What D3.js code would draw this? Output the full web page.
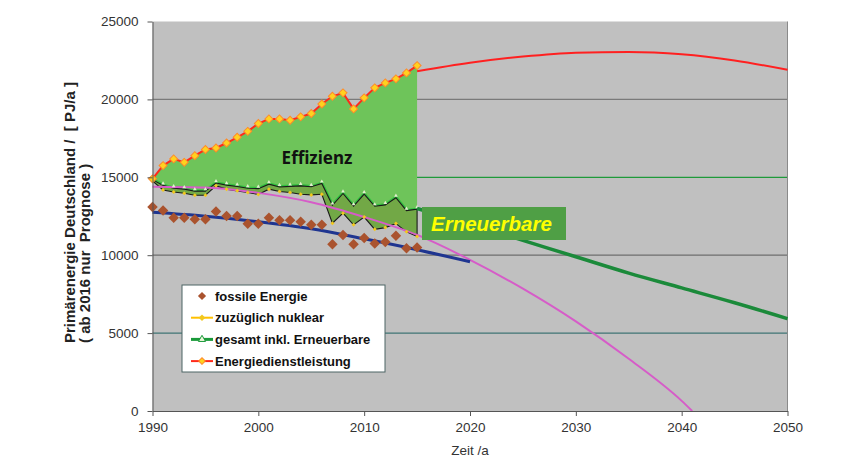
<!DOCTYPE html>
<html>
<head>
<meta charset="utf-8">
<script src="https://cdn.jsdelivr.net/npm/d3@7"></script>
<style>
  body { margin: 0; background: #fff; }
  text { font-family: "Liberation Sans", Arial, sans-serif; }
</style>
</head>
<body>
<div class="chart"></div>
<script>
// values (PJ/a)
var years = [1990, 1991, 1992, 1993, 1994, 1995, 1996, 1997, 1998, 1999, 2000, 2001, 2002,
             2003, 2004, 2005, 2006, 2007, 2008, 2009, 2010, 2011, 2012, 2013, 2014, 2015];
var fossil = [13100, 12870, 12400, 12400, 12300, 12300, 12800, 12510, 12510, 12020, 12020, 12400, 12240,
              12240, 12150, 11950, 11950, 10700, 11300, 10700, 11100, 10750, 10850, 11250, 10450, 10500];
var nuklear = [14760, 14190, 14060, 13980, 13850, 13850, 14450, 14240, 14130, 14020, 13900, 14240, 14090,
               14020, 13910, 13870, 13910, 12050, 12700, 11950, 12450, 11660, 11770, 12030, 11500, 11200];
var gesamt = [14850, 14480, 14300, 14240, 14110, 14110, 14630, 14500, 14410, 14300, 14270, 14560, 14380,
              14420, 14450, 14390, 14600, 13200, 13960, 13150, 13920, 13140, 13230, 13690, 12860, 12950];
var dienst = [14900, 15750, 16180, 15960, 16390, 16780, 16880, 17200, 17570, 17950, 18450, 18750, 18750,
              18660, 18880, 19090, 19710, 20200, 20420, 19390, 20100, 20740, 21060, 21320, 21700, 22170];

// forecast / trend curves
var prognoseYears = [2015, 2020, 2025, 2030, 2035, 2040, 2045, 2050];
var dienstPrognose = [21800, 22350, 22750, 23000, 23050, 22900, 22500, 21900];
var gesamtPrognose = [13000, 12000, 10950, 9900, 8850, 7900, 6950, 5930];
var trendYears = [1990, 1995, 2000, 2005, 2010, 2015, 2020, 2025, 2030, 2035, 2040, 2041];
var trendGesamt = [14400, 14350, 14000, 13400, 12450, 11300, 9700, 7850, 5750, 3350, 650, 0];
var fossilTrendYears = [1990, 1995, 2000, 2005, 2010, 2015, 2020];
var fossilTrend = [12750, 12500, 12150, 11700, 11050, 10350, 9580];

var yTicks = [0, 5000, 10000, 15000, 20000, 25000];
var xTicks = [1990, 2000, 2010, 2020, 2030, 2040, 2050];
var legendLabels = ["fossile Energie", "zuzüglich nuklear", "gesamt inkl. Erneuerbare", "Energiedienstleistung"];

var W = 860, H = 459;
var x = d3.scaleLinear().domain([1990, 2050]).range([152.5, 787.5]);
var y = d3.scaleLinear().domain([0, 25000]).range([411, 21.5]);

var svg = d3.select(".chart").append("svg")
    .attr("width", W).attr("height", H);

var rows = years.map((yr, i) => ({ year: yr, fossil: fossil[i], nuklear: nuklear[i], gesamt: gesamt[i], dienst: dienst[i] }));
var pts = (xs, vs) => xs.map((yr, i) => [yr, vs[i]]);

// plot background
svg.append("rect")
    .attr("x", x(1990)).attr("y", y(25000))
    .attr("width", x(2050) - x(1990)).attr("height", y(0) - y(25000))
    .attr("fill", "#c0c0c0");

// grid lines
var gridColor = { 5000: "#3f7574", 10000: "#6e6e6e", 15000: "#1f9a3a", 20000: "#7a7a7a" };
svg.append("g").selectAll("line")
    .data([5000, 10000, 15000, 20000])
    .enter().append("line")
    .attr("x1", x(1990)).attr("x2", x(2050))
    .attr("y1", d => y(d)).attr("y2", d => y(d))
    .attr("stroke", d => gridColor[d])
    .attr("stroke-width", 1.2);

svg.append("line")
    .attr("x1", x(2050)).attr("x2", x(2050))
    .attr("y1", y(25000)).attr("y2", y(0))
    .attr("stroke", "#8a8a8a");

// Effizienz area between total and energy service
var effArea = d3.area()
    .x(d => x(d.year)).y0(d => y(d.gesamt)).y1(d => y(d.dienst));
svg.append("path").datum(rows)
    .attr("d", effArea)
    .attr("fill", "#6ec45a");

// green total line under the outline
var line = d3.line().x(d => x(d[0])).y(d => y(d[1]));
svg.append("path").datum(pts(years, gesamt))
    .attr("d", line)
    .attr("fill", "none")
    .attr("stroke", "#33c040")
    .attr("stroke-width", 3.5);

// renewables band between nuclear and total
var ernArea = d3.area()
    .x(d => x(d.year)).y0(d => y(d.nuklear)).y1(d => y(d.gesamt));
svg.append("path").datum(rows)
    .attr("d", ernArea)
    .attr("fill", "#72a846")
    .attr("stroke", "#1a1a1a")
    .attr("stroke-width", 1.1);

// magenta trend curve
var smooth = d3.line().x(d => x(d[0])).y(d => y(d[1])).curve(d3.curveMonotoneX);
svg.append("path").datum(pts(trendYears, trendGesamt))
    .attr("d", smooth)
    .attr("fill", "none")
    .attr("stroke", "#d65cc8")
    .attr("stroke-width", 2);

// small markers on nuclear and total lines
svg.append("g").selectAll("path")
    .data(rows)
    .enter().append("path")
    .attr("d", d3.symbol(d3.symbolSquare, 8))
    .attr("transform", d => "translate(" + x(d.year) + "," + y(d.nuklear) + ") rotate(45)")
    .attr("fill", "#f2c81e");
svg.append("g").selectAll("path")
    .data(rows)
    .enter().append("path")
    .attr("d", d3.symbol(d3.symbolTriangle, 6))
    .attr("transform", d => "translate(" + x(d.year) + "," + (y(d.gesamt) - 2) + ")")
    .attr("fill", "#e4f0d0");

// fossil trend
svg.append("path").datum(pts(fossilTrendYears, fossilTrend))
    .attr("d", smooth)
    .attr("fill", "none")
    .attr("stroke", "#1f3590")
    .attr("stroke-width", 3);

// fossil markers
svg.append("g").selectAll("path")
    .data(rows)
    .enter().append("path")
    .attr("d", d3.symbol(d3.symbolSquare, 55))
    .attr("transform", d => "translate(" + x(d.year) + "," + y(d.fossil) + ") rotate(45)")
    .attr("fill", "#aa532e");

// energy service line with markers
svg.append("path").datum(pts(years, dienst))
    .attr("d", line)
    .attr("fill", "none")
    .attr("stroke", "#ff2a1a")
    .attr("stroke-width", 2);
svg.append("g").selectAll("path")
    .data(rows)
    .enter().append("path")
    .attr("d", d3.symbol(d3.symbolSquare, 32))
    .attr("transform", d => "translate(" + x(d.year) + "," + y(d.dienst) + ") rotate(45)")
    .attr("fill", "#ffd21f")
    .attr("stroke", "#ff8a2a")
    .attr("stroke-width", 1);

// forecasts
svg.append("path").datum(pts(prognoseYears, dienstPrognose))
    .attr("d", smooth)
    .attr("fill", "none")
    .attr("stroke", "#ff2020")
    .attr("stroke-width", 2);
svg.append("path").datum(pts(prognoseYears, gesamtPrognose))
    .attr("d", smooth)
    .attr("fill", "none")
    .attr("stroke", "#1b8a3a")
    .attr("stroke-width", 3.5);

// labels inside the plot
svg.append("text")
    .attr("x", 317).attr("y", 158)
    .attr("dy", "0.35em")
    .attr("text-anchor", "middle")
    .style("font-family", "'Noto Sans', sans-serif")
    .attr("font-size", "17px")
    .attr("font-weight", "bold")
    .attr("fill", "#111")
    .text("Effizienz");

svg.append("rect")
    .attr("x", 422).attr("y", 207)
    .attr("width", 144).attr("height", 33)
    .attr("fill", "#4f9f45");
svg.append("text")
    .attr("x", 431).attr("y", 231)
    .attr("font-size", "20.5px")
    .attr("font-weight", "bold")
    .attr("font-style", "italic")
    .attr("fill", "#ffff00")
    .text("Erneuerbare");

// axes
var yAxis = d3.axisLeft(y).tickValues(yTicks).tickFormat(d3.format("d")).tickSize(5).tickPadding(9).tickSizeOuter(0);
var gy = svg.append("g")
    .attr("transform", "translate(" + x(1990) + ",0)")
    .call(yAxis);
gy.select(".domain").attr("stroke", "#555");
gy.selectAll(".tick line").attr("stroke", "#555");
gy.selectAll("text").attr("font-size", "13.5px").attr("fill", "#333").style("font-family", "'Liberation Sans', Arial");

var xAxis = d3.axisBottom(x).tickValues(xTicks).tickFormat(d3.format("d")).tickSize(5).tickPadding(6).tickSizeOuter(0);
var gx = svg.append("g")
    .attr("transform", "translate(0," + y(0) + ")")
    .call(xAxis);
gx.select(".domain").attr("stroke", "#555");
gx.selectAll(".tick line").attr("stroke", "#555");
gx.selectAll("text").attr("font-size", "13.5px").attr("fill", "#333").style("font-family", "'Liberation Sans', Arial");

svg.append("text")
    .attr("x", x(2020)).attr("y", 455)
    .attr("text-anchor", "middle")
    .attr("font-size", "13.5px")
    .attr("fill", "#333")
    .text("Zeit /a");

var yTitle = svg.append("g").attr("transform", "translate(75,343) rotate(-90)");
yTitle.append("text")
    .attr("font-size", "15px").attr("font-weight", "bold").attr("fill", "#222")
    .attr("xml:space", "preserve")
    .text("Primärenergie Deutschland /  [ PJ/a ]");
yTitle.append("text")
    .attr("y", 15)
    .attr("font-size", "15px").attr("font-weight", "bold").attr("fill", "#222")
    .attr("xml:space", "preserve")
    .text("( ab 2016 nur  Prognose )");

// legend
var legend = svg.append("g").attr("transform", "translate(182,285)");
legend.append("rect")
    .attr("width", 203).attr("height", 87)
    .attr("fill", "#fff")
    .attr("stroke", "#4d6464");
var item = legend.selectAll("g.item")
    .data(legendLabels)
    .enter().append("g")
    .attr("class", "item")
    .attr("transform", (d, i) => "translate(20," + (11 + i * 21.7) + ")");
item.filter((d, i) => i > 0).append("line")
    .attr("x1", -11).attr("x2", 11)
    .attr("stroke", (d, i) => ["#ffc000", "#1a9a3a", "#ff2a1a"][i])
    .attr("stroke-width", (d, i) => i === 1 ? 3 : 2);
item.append("path")
    .attr("d", (d, i) => i === 2 ? d3.symbol(d3.symbolTriangle, 22)() : d3.symbol(d3.symbolSquare, i === 0 ? 34 : 22)())
    .attr("transform", (d, i) => i === 2 ? "" : "rotate(45)")
    .attr("fill", (d, i) => ["#aa532e", "#f2c81e", "#eef6dc", "#ffd21f"][i])
    .attr("stroke", (d, i) => ["none", "none", "#1a9a3a", "#ff8a2a"][i]);
item.append("text")
    .attr("x", 13)
    .attr("dy", "0.35em")
    .attr("font-size", "13px")
    .attr("font-weight", "bold")
    .attr("fill", "#111")
    .text(d => d);
</script>
</body>
</html>
